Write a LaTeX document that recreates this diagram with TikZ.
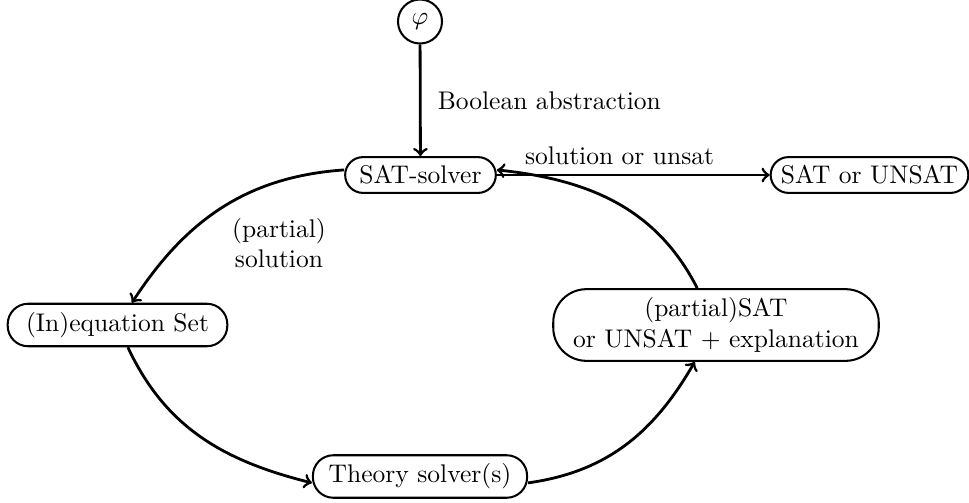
\documentclass[tikz,border=0pt]{standalone}
\begin{document}
\begin{tikzpicture}[x=0.392pt,y=-0.392pt,
  box/.style={draw, line width=0.8pt, rounded corners=7pt, inner xsep=5pt, inner ysep=3.33pt},
  edgeln/.style={->, line width=1.1pt}]
\useasboundingbox (0,0) rectangle (969,502);
\node[draw, circle, line width=0.8pt, inner sep=2.9pt] (phi) at (420,21.5) {$\varphi$};
\node[box, inner xsep=5.6pt] (sat) at (420.5,175) {SAT-solver};
\node[box, inner xsep=4pt] (res) at (869.5,175) {SAT or UNSAT};
\node[box, inner xsep=7.2pt, rounded corners=8pt] (ineq) at (117.5,325) {(In)equation Set};
\node[box, align=center, rounded corners=13pt, inner xsep=7.8pt] (expl) at (716,325) {(partial)SAT\\or UNSAT $+$ explanation};
\node[box, inner xsep=6.2pt, rounded corners=8pt] (th) at (420,476.5) {Theory solver(s)};
\node[align=center] (lbl) at (279,243) {(partial)\\solution};
\draw[edgeln] (phi) -- node[right=3pt] {Boolean abstraction} (sat);
\draw[edgeln] (sat) -- node[above, pos=0.45] {solution or unsat} (res);
\draw[edgeln] ([yshift=2pt]sat.west) to[out=184,in=57] (ineq);
\draw[edgeln] (ineq) to[out=-65,in=166] (th.base west);
\draw[edgeln] (th.base east) to[out=8,in=-120] (expl);
\draw[edgeln] (expl) to[out=117,in=-6] ([yshift=2pt]sat.east);
\end{tikzpicture}
\end{document}
